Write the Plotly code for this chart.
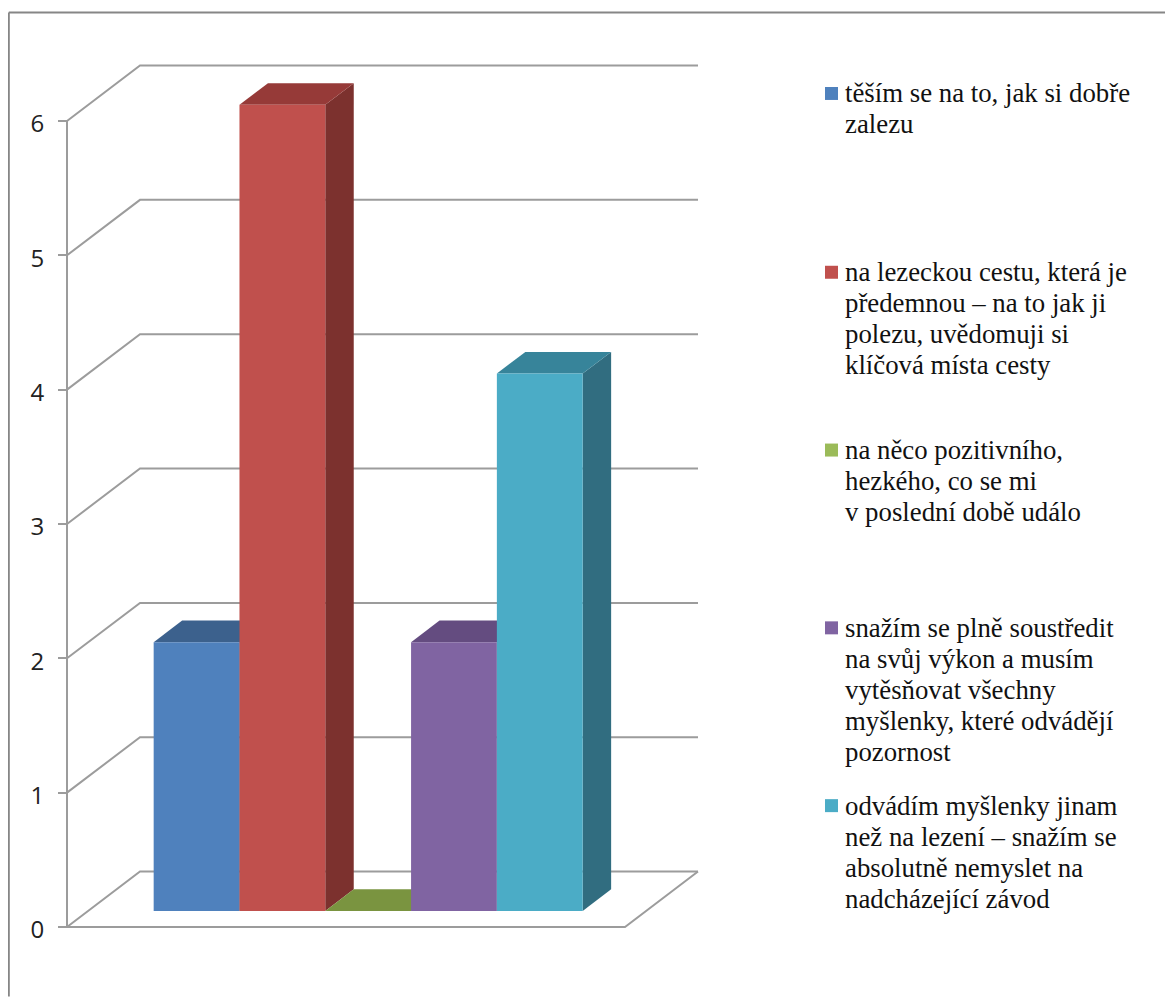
import plotly.graph_objects as go

# ---- data ----
categories = [
    "těším se na to, jak si dobře<br>zalezu",
    "na lezeckou cestu, která je<br>předemnou – na to jak ji<br>polezu, uvědomuji si<br>klíčová místa cesty",
    "na něco pozitivního,<br>hezkého, co se mi<br>v poslední době událo",
    "snažím se plně soustředit<br>na svůj výkon a musím<br>vytěsňovat všechny<br>myšlenky, které odvádějí<br>pozornost",
    "odvádím myšlenky jinam<br>než na lezení – snažím se<br>absolutně nemyslet na<br>nadcházející závod",
]
values = [2, 6, 0, 2, 4]
y_ticks = [0, 1, 2, 3, 4, 5, 6]

front_colors = ["#4F81BD", "#C0504D", "#9BBB59", "#8064A2", "#4BACC6"]
top_colors = ["#3C618D", "#963A38", "#7A9440", "#644C80", "#37849A"]
side_colors = ["#33547B", "#7C312E", "#64793A", "#533F6A", "#316D80"]
legend_line1_px = [93, 272, 450, 628, 806]

GRID = "#9C9C9C"
# the page body adds an 8 px margin round the figure
PAGE = 8
W, H = 1173 - PAGE, 997 - PAGE
AX_L, AX_R, AX_T, AX_B = 67 - PAGE, 697 - PAGE, 65.5 - PAGE, 927.5 - PAGE
PAD = 4
L, R, T, B = AX_L - PAD, AX_R + PAD, AX_T - PAD, AX_B + PAD
UNIT_Y = (AX_B - (120.5 - PAGE)) / 6   # px per value
FLOOR_W = 558                          # px, front floor edge
DX, DY = 73, 55.5                      # px, oblique shift of full depth
SK_X = DX / FLOOR_W
SK_Y = DY / UNIT_Y
BAR_W = 85.8 / FLOOR_W
GAP = (1 - BAR_W * len(values)) / 2 + 1 / FLOOR_W
Z0, Z1 = 0.29, 0.68


def proj(x, y, z):
    return x + z * SK_X, y + z * SK_Y


def poly(points, **kw):
    pts = [proj(*p) for p in points]
    return go.Scatter(x=[p[0] for p in pts], y=[p[1] for p in pts], hoverinfo="skip",
                      showlegend=False, **kw)


fig = go.Figure()

# walls and floor
line = dict(color=GRID, width=2)
for v in y_ticks:
    fig.add_trace(poly([(0, v, 0), (0, v, 1), (1, v, 1)], mode="lines", line=line))
fig.add_trace(poly([(0, 0, 0), (1, 0, 0), (1, 0, 1)], mode="lines", line=line))
fig.add_trace(poly([(0, 0, 0), (0, max(y_ticks), 0)], mode="lines", line=line))

# bars
for i, v in enumerate(values):
    x0 = GAP + i * BAR_W
    x1 = x0 + BAR_W
    if v > 0:
        fig.add_trace(poly([(x1, 0, Z0), (x1, v, Z0), (x1, v, Z1), (x1, 0, Z1), (x1, 0, Z0)],
                           mode="lines", fill="toself", fillcolor=side_colors[i], line=dict(width=0)))
    fig.add_trace(poly([(x0, v, Z0), (x1, v, Z0), (x1, v, Z1), (x0, v, Z1), (x0, v, Z0)],
                       mode="lines", fill="toself", fillcolor=top_colors[i], line=dict(width=0)))
    if v > 0:
        fig.add_trace(poly([(x0, 0, Z0), (x1, 0, Z0), (x1, v, Z0), (x0, v, Z0), (x0, 0, Z0)],
                           mode="lines", fill="toself", fillcolor=front_colors[i], line=dict(width=0)))


def px_x(p):
    return (p - PAGE - L) / (R - L)


def px_y(p):
    return (B - (p - PAGE)) / (B - T)


shapes = [
    dict(type="line", xref="paper", yref="paper", x0=px_x(8.8), x1=px_x(1173), y0=px_y(12), y1=px_y(12),
         line=dict(color="#868686", width=2)),
    dict(type="line", xref="paper", yref="paper", x0=px_x(8.8), x1=px_x(8.8), y0=px_y(12), y1=px_y(997),
         line=dict(color="#868686", width=2)),
]
annotations = []
for name, c, py in zip(categories, front_colors, legend_line1_px):
    shapes.append(dict(type="rect", xref="paper", yref="paper", x0=px_x(825), x1=px_x(838),
                       y0=px_y(py - 6.5), y1=px_y(py + 6.5), fillcolor=c, line=dict(width=0)))
    for k, text_line in enumerate(name.split("<br>")):
        annotations.append(dict(text=text_line, xref="paper", yref="paper", x=px_x(844), y=px_y(py + k * 31),
                                xanchor="left", yanchor="middle", align="left", showarrow=False,
                                xshift=-1, font=dict(family="Liberation Serif", size=26.8, color="#111111")))

fig.update_layout(
    width=W, height=H, autosize=False,
    margin=dict(l=L, r=W - R, t=T, b=H - B, pad=0),
    paper_bgcolor="white", plot_bgcolor="white",
    showlegend=False, shapes=shapes, annotations=annotations,
    xaxis=dict(range=[-PAD / FLOOR_W, (AX_R - AX_L + PAD) / FLOOR_W], visible=False, fixedrange=True),
    yaxis=dict(range=[-PAD / UNIT_Y, (AX_B - AX_T + PAD) / UNIT_Y], tickvals=y_ticks, showgrid=False,
               zeroline=False, showline=False, ticks="outside", ticklen=9,
               anchor="free", position=PAD / (R - L),
               tickcolor=GRID, tickwidth=2, ticklabelstandoff=9, ticklabelshift=3,
               tickfont=dict(family="Open Sans", size=24, color="#222222"), fixedrange=True),
)

fig.write_html("out.html")
